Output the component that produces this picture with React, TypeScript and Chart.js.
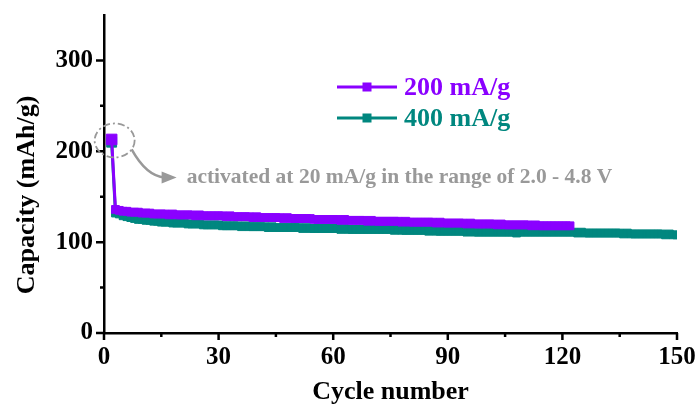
import React, { useEffect, useRef } from 'react';
import { Chart, registerables } from 'chart.js';
Chart.register(...registerables);

const SERIES_LABELS = ['200 mA/g', '400 mA/g'];
const SERIES_COLORS = ['#8A00FF', '#00877F'];
const FIRST_CYCLE = 2;
const CAP_200 = [
  213,
  136, 135, 134, 134, 133, 133, 133, 132,
  132, 132, 131, 131, 131, 131, 130, 131, 130, 130,
  130, 130, 130, 129, 130, 129, 129, 129, 129, 129,
  129, 128, 129, 128, 128, 128, 128, 128, 127, 128,
  127, 127, 127, 127, 127, 127, 126, 127, 126, 126,
  126, 126, 126, 126, 125, 125, 125, 125, 125, 125,
  125, 124, 125, 124, 124, 124, 124, 124, 123, 124,
  123, 123, 123, 123, 123, 123, 123, 122, 123, 122,
  122, 122, 122, 122, 122, 122, 121, 122, 121, 121,
  121, 121, 121, 121, 120, 121, 120, 120, 120, 120,
  120, 120, 119, 120, 119, 119, 119, 119, 119, 119,
  119, 118, 119, 118, 118, 118, 118, 118, 118, 118,
  118, 118,
];
const CAP_400 = [
  210,
  132, 131, 129, 128, 127, 126, 125, 125,
  124, 124, 123, 123, 122, 122, 122, 121, 121, 121,
  121, 120, 120, 120, 120, 119, 119, 119, 119, 119,
  118, 118, 118, 118, 118, 117, 118, 117, 117, 117,
  117, 117, 116, 117, 116, 116, 116, 116, 116, 116,
  116, 115, 116, 115, 115, 115, 115, 115, 115, 115,
  115, 114, 115, 114, 114, 114, 114, 114, 114, 114,
  114, 114, 114, 114, 114, 113, 114, 113, 113, 113,
  113, 113, 113, 113, 112, 113, 112, 112, 112, 112,
  112, 112, 112, 112, 111, 112, 111, 111, 111, 111,
  111, 111, 111, 111, 111, 111, 111, 110, 111, 111,
  111, 111, 111, 111, 111, 111, 111, 111, 111, 111,
  111, 111, 111, 110, 111, 110, 110, 110, 110, 110,
  110, 110, 110, 110, 110, 109, 110, 109, 109, 109,
  109, 109, 109, 109, 109, 109, 108, 109, 108, 108,
];
const X_MAJOR = [0, 30, 60, 90, 120, 150];
const X_MINOR = [15, 45, 75, 105, 135];
const Y_MAJOR = [0, 100, 200, 300];
const Y_MINOR = [50, 150, 250];
const X_TITLE = 'Cycle number';
const Y_TITLE = 'Capacity (mAh/g)';
const NOTE = 'activated at 20 mA/g in the range of 2.0 - 4.8 V';

const FONT = "'Liberation Serif', 'Times New Roman', serif";

const toPoints = (vals: number[]) => vals.map((v, i) => ({ x: FIRST_CYCLE + i, y: v }));

const decorPlugin = {
  id: 'decor',
  afterDraw(chart: any) {
    const ctx = chart.ctx as CanvasRenderingContext2D;
    const xs = chart.scales.x;
    const ys = chart.scales.y;
    const area = chart.chartArea;
    ctx.save();
    // ticks
    ctx.strokeStyle = '#000';
    ctx.lineWidth = 2.5;
    ctx.beginPath();
    Y_MAJOR.forEach((v) => { const p = ys.getPixelForValue(v); ctx.moveTo(area.left - 8, p); ctx.lineTo(area.left, p); });
    Y_MINOR.forEach((v) => { const p = ys.getPixelForValue(v); ctx.moveTo(area.left - 4, p); ctx.lineTo(area.left, p); });
    X_MAJOR.forEach((v) => { const p = xs.getPixelForValue(v); ctx.moveTo(p, area.bottom); ctx.lineTo(p, area.bottom + 7); });
    X_MINOR.forEach((v) => { const p = xs.getPixelForValue(v); ctx.moveTo(p, area.bottom); ctx.lineTo(p, area.bottom + 4); });
    ctx.stroke();

    // y title
    ctx.save();
    ctx.translate(27, 195);
    ctx.rotate(-Math.PI / 2);
    ctx.fillStyle = '#000';
    ctx.font = `bold 26px ${FONT}`;
    ctx.textAlign = 'center';
    ctx.textBaseline = 'middle';
    ctx.fillText(Y_TITLE, 0, 0);
    ctx.restore();

    // legend
    const lx = 337, ly = [87, 118];
    SERIES_LABELS.forEach((lab, i) => {
      const c = SERIES_COLORS[i];
      ctx.strokeStyle = c;
      ctx.lineWidth = 3;
      ctx.beginPath();
      ctx.moveTo(lx, ly[i]);
      ctx.lineTo(lx + 60, ly[i]);
      ctx.stroke();
      ctx.fillStyle = c;
      ctx.fillRect(lx + 30 - 4.5, ly[i] - 4.5, 9, 9);
      ctx.font = `bold 26px ${FONT}`;
      ctx.textAlign = 'left';
      ctx.textBaseline = 'middle';
      ctx.fillText(lab, lx + 67, ly[i] + 1);
    });

    // annotation
    const cx = xs.getPixelForValue(FIRST_CYCLE) + 3;
    const cy = ys.getPixelForValue(CAP_200[0]) + 1;
    ctx.strokeStyle = '#999';
    ctx.lineWidth = 1.8;
    ctx.setLineDash([7, 3, 2, 3]);
    ctx.beginPath();
    ctx.ellipse(cx, cy, 20, 17, 0, 0, Math.PI * 2);
    ctx.stroke();
    ctx.setLineDash([]);
    ctx.lineWidth = 2.5;
    ctx.beginPath();
    ctx.moveTo(cx + 17, cy + 9);
    ctx.quadraticCurveTo(cx + 32, cy + 36, cx + 50, cy + 37);
    ctx.stroke();
    ctx.fillStyle = '#999';
    ctx.beginPath();
    ctx.moveTo(cx + 62, cy + 37);
    ctx.lineTo(cx + 47, cy + 31);
    ctx.lineTo(cx + 47, cy + 43);
    ctx.closePath();
    ctx.fill();
    ctx.font = `bold 21.5px ${FONT}`;
    ctx.textAlign = 'left';
    ctx.textBaseline = 'middle';
    ctx.fillText(NOTE, cx + 72, cy + 37);
    ctx.restore();
  },
};

export default function App() {
  const ref = useRef<HTMLCanvasElement>(null);
  useEffect(() => {
    document.body.style.margin = '0';
    const chart = new Chart(ref.current!, {
      type: 'line',
      data: {
        datasets: [
          {
            label: SERIES_LABELS[0],
            data: toPoints(CAP_200),
            borderColor: SERIES_COLORS[0],
            backgroundColor: SERIES_COLORS[0],
            borderWidth: 3,
            pointStyle: 'rect',
            pointRadius: (c: any) => (c.dataIndex === 0 ? 7.5 : 5.5),
            pointBorderWidth: 1,
          },
          {
            label: SERIES_LABELS[1],
            data: toPoints(CAP_400),
            borderColor: SERIES_COLORS[1],
            backgroundColor: SERIES_COLORS[1],
            borderWidth: 3,
            pointStyle: 'rect',
            pointRadius: (c: any) => (c.dataIndex === 0 ? 7 : 5.5),
            pointBorderWidth: 1,
          },
        ],
      },
      options: {
        responsive: false,
        animation: false,
        layout: { padding: { left: 0, right: 23, top: 15, bottom: 0 } },
        plugins: { legend: { display: false }, tooltip: { enabled: false } },
        scales: {
          x: {
            type: 'linear',
            min: 0,
            max: 150,
            afterBuildTicks: (s: any) => { s.ticks = X_MAJOR.map((v) => ({ value: v })); },
            afterFit: (s: any) => { s.height = 77; s.paddingLeft = 0; s.paddingRight = 0; },
            grid: { display: true, drawOnChartArea: false, drawTicks: false },
            border: { display: true, color: '#000', width: 2.5 },
            ticks: { color: '#000', padding: 10, font: { family: FONT, size: 25, weight: 'bold' }, maxRotation: 0 },
            title: { display: true, text: X_TITLE, color: '#000', font: { family: FONT, size: 26, weight: 'bold' }, padding: { top: 0, bottom: 2 } },
          },
          y: {
            type: 'linear',
            min: 0,
            max: 350,
            afterBuildTicks: (s: any) => { s.ticks = Y_MAJOR.map((v) => ({ value: v })); },
            afterFit: (s: any) => { s.width = 104; s.paddingTop = 0; s.paddingBottom = 0; },
            grid: { display: true, drawOnChartArea: false, drawTicks: false },
            border: { display: true, color: '#000', width: 2.5 },
            ticks: { color: '#000', padding: 11, font: { family: FONT, size: 25, weight: 'bold' } },
            title: { display: false },
          },
        },
      },
      plugins: [decorPlugin],
    } as any);
    return () => chart.destroy();
  }, []);
  return (
    <div style={{ width: 700, height: 410, background: '#fff' }}>
      <canvas ref={ref} width={700} height={410} />
    </div>
  );
}
